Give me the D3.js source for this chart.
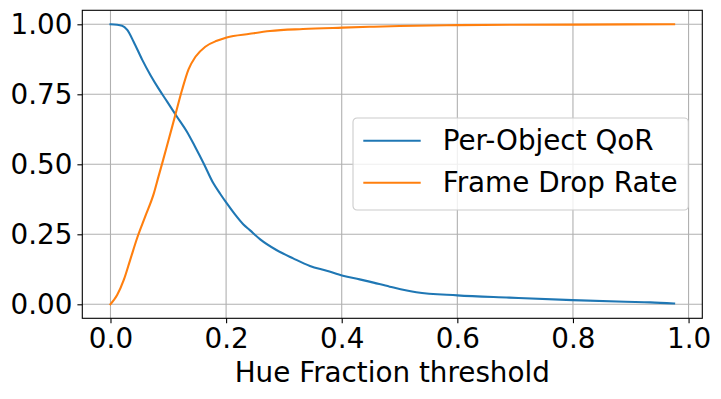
<!DOCTYPE html>
<html>
<head>
<meta charset="utf-8">
<script src="https://cdn.jsdelivr.net/npm/d3@7"></script>
<style>
  body { margin: 0; background: #fff; }
  svg { display: block; font-family: "DejaVu Sans", sans-serif; }
</style>
</head>
<body>
<svg id="chart" width="721" height="399"></svg>
<script>
// Per-Object QoR curve (blue)
var qorX = [0, 0.02, 0.029, 0.04, 0.055, 0.069, 0.083, 0.098, 0.115, 0.132, 0.147, 0.161, 0.178, 0.19, 0.201, 0.215, 0.23, 0.241, 0.259, 0.287, 0.316, 0.345, 0.374, 0.402, 0.431, 0.448, 0.483, 0.529, 0.6, 0.69, 0.799, 0.891, 0.934, 0.975];
var qorY = [1.0, 0.995, 0.98, 0.938, 0.873, 0.819, 0.771, 0.724, 0.670, 0.617, 0.560, 0.504, 0.432, 0.394, 0.361, 0.322, 0.285, 0.265, 0.232, 0.194, 0.164, 0.137, 0.12, 0.102, 0.089, 0.081, 0.063, 0.043, 0.032, 0.024, 0.015, 0.009, 0.007, 0.003];

// Frame Drop Rate curve (orange)
var dropX = [0, 0.0115, 0.023, 0.034, 0.046, 0.06, 0.075, 0.083, 0.091, 0.0966, 0.112, 0.124, 0.135, 0.147, 0.164, 0.184, 0.201, 0.241, 0.276, 0.333, 0.401, 0.448, 0.5, 0.6, 0.8, 0.975];
var dropY = [0, 0.033, 0.087, 0.158, 0.236, 0.313, 0.396, 0.456, 0.515, 0.557, 0.675, 0.767, 0.839, 0.884, 0.920, 0.941, 0.953, 0.966, 0.976, 0.983, 0.988, 0.991, 0.994, 0.997, 0.999, 1.0];

var xTicks = [0, 0.2, 0.4, 0.6, 0.8, 1.0];
var yTicks = [0, 0.25, 0.5, 0.75, 1.0];

var seriesNames = ["Per-Object QoR", "Frame Drop Rate"];
var seriesColors = ["#1f77b4", "#ff7f0e"];

var svg = d3.select("#chart"),
    width = +svg.attr("width"),
    height = +svg.attr("height");

var margin = {top: 10.3, right: 18.7, bottom: 80.7, left: 82.3};
var plotW = width - margin.left - margin.right,
    plotH = height - margin.top - margin.bottom;

var fontSize = 27.8;

var x = d3.scaleLinear().domain([-0.04875, 1.02375]).range([0, plotW]);
var y = d3.scaleLinear().domain([-0.05, 1.05]).range([plotH, 0]);

var g = svg.append("g")
    .attr("transform", "translate(" + margin.left + "," + margin.top + ")");

// grid
g.append("g").selectAll("line")
    .data(xTicks).enter().append("line")
    .attr("x1", function(d) { return x(d); })
    .attr("x2", function(d) { return x(d); })
    .attr("y1", 0).attr("y2", plotH)
    .attr("stroke", "#b0b0b0").attr("stroke-width", 1.1);

g.append("g").selectAll("line")
    .data(yTicks).enter().append("line")
    .attr("y1", function(d) { return y(d); })
    .attr("y2", function(d) { return y(d); })
    .attr("x1", 0).attr("x2", plotW)
    .attr("stroke", "#b0b0b0").attr("stroke-width", 1.1);

// axes
var xAxis = g.append("g")
    .attr("transform", "translate(0," + plotH + ")")
    .call(d3.axisBottom(x).tickValues(xTicks).tickFormat(d3.format(".1f"))
      .tickSizeInner(4.9).tickSizeOuter(0).tickPadding(4.9));

var yAxis = g.append("g")
    .call(d3.axisLeft(y).tickValues(yTicks).tickFormat(d3.format(".2f"))
      .tickSizeInner(4.9).tickSizeOuter(0).tickPadding(4.9));

[xAxis, yAxis].forEach(function(a) {
  a.select(".domain").remove();
  a.selectAll(".tick line").attr("stroke", "#000").attr("stroke-width", 1.1);
  a.selectAll(".tick text")
    .attr("fill", "#000")
    .style("font-size", fontSize + "px")
    .style("font-family", "DejaVu Sans");
});

// lines
var line = d3.line()
    .curve(d3.curveMonotoneX)
    .x(function(d) { return x(d[0]); })
    .y(function(d) { return y(d[1]); });

var qorData = qorX.map(function(v, i) { return [v, qorY[i]]; });
var dropData = dropX.map(function(v, i) { return [v, dropY[i]]; });

[qorData, dropData].forEach(function(data, i) {
  g.append("path")
    .datum(data)
    .attr("fill", "none")
    .attr("stroke", seriesColors[i])
    .attr("stroke-width", 2.1)
    .attr("stroke-linejoin", "round")
    .attr("stroke-linecap", "square")
    .attr("d", line);
});

// spines
g.append("rect")
    .attr("x", 0).attr("y", 0)
    .attr("width", plotW).attr("height", plotH)
    .attr("fill", "none")
    .attr("stroke", "#000")
    .attr("stroke-width", 1.1);

// x label
svg.append("text")
    .attr("x", margin.left + plotW / 2)
    .attr("y", 382)
    .attr("text-anchor", "middle")
    .style("font-size", fontSize + "px")
    .text("Hue Fraction threshold");

// legend
var legend = svg.append("g").attr("transform", "translate(353,118)");

legend.append("rect")
    .attr("width", 335.3).attr("height", 92)
    .attr("rx", 4).attr("ry", 4)
    .attr("fill", "#fff").attr("fill-opacity", 0.8)
    .attr("stroke", "#cccccc").attr("stroke-width", 1.1);

var items = legend.selectAll("g.item")
    .data(seriesNames).enter().append("g")
    .attr("transform", function(d, i) { return "translate(0," + (22.7 + i * 42) + ")"; });

items.append("line")
    .attr("x1", 10.3).attr("x2", 67.7)
    .attr("stroke", function(d, i) { return seriesColors[i]; })
    .attr("stroke-width", 2.1);

items.append("text")
    .attr("x", 89.7)
    .attr("dy", "0.35em")
    .style("font-size", fontSize + "px")
    .text(function(d) { return d; });
</script>
</body>
</html>
